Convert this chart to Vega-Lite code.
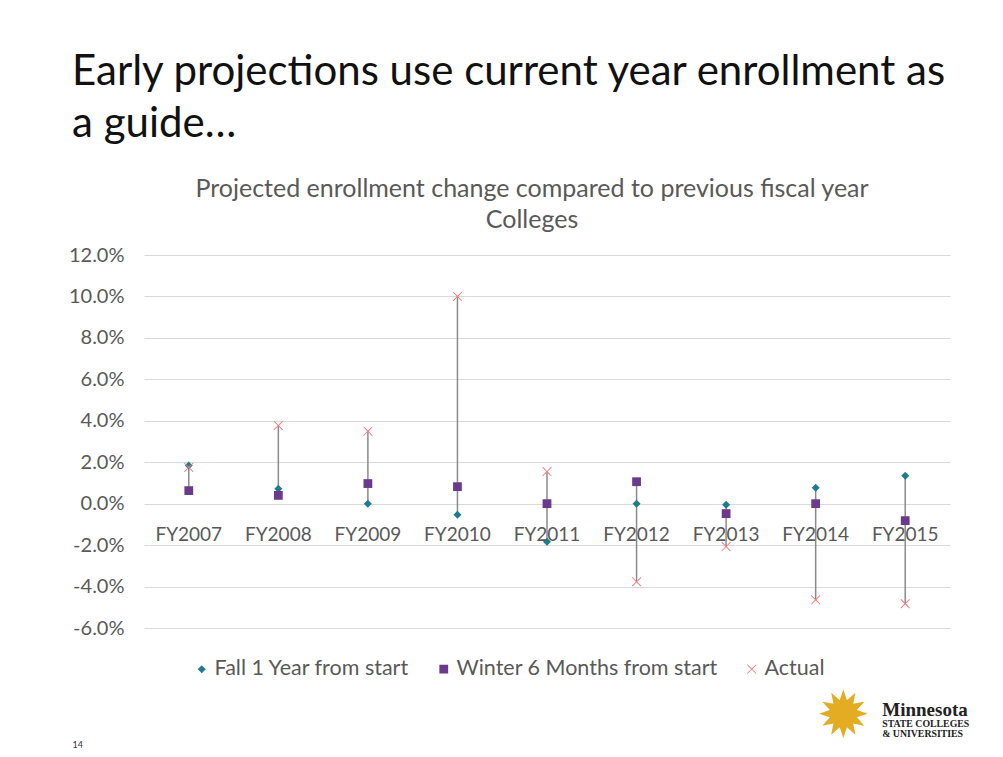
{
  "$schema": "https://vega.github.io/schema/vega-lite/v6.json",
  "autosize": {"type": "none"},
  "width": 806,
  "height": 373,
  "padding": {"left": 144, "top": 255, "right": 53, "bottom": 129},
  "background": "white",
  "title": {
    "text": ["Early projections use current year enrollment as", "a guide…"],
    "anchor": "start",
    "frame": "group",
    "dx": -72,
    "dy": -11,
    "offset": 20,
    "font": "Lato",
    "fontSize": 42,
    "fontWeight": "normal",
    "color": "#111111",
    "lineHeight": 52
  },
  "config": {
    "font": "Lato",
    "view": {"stroke": null},
    "locale": {"number": {"decimal": ".", "thousands": ",", "grouping": [3], "currency": ["$", ""], "minus": "-"}}
  },
  "datasets": {
    "enroll": [
      {"year": "FY2007", "series": "Fall 1 Year from start", "value": 0.0184},
      {"year": "FY2007", "series": "Winter 6 Months from start", "value": 0.0063},
      {"year": "FY2007", "series": "Actual", "value": 0.0175},
      {"year": "FY2008", "series": "Fall 1 Year from start", "value": 0.0072},
      {"year": "FY2008", "series": "Winter 6 Months from start", "value": 0.0040},
      {"year": "FY2008", "series": "Actual", "value": 0.0377},
      {"year": "FY2009", "series": "Fall 1 Year from start", "value": 0.0000},
      {"year": "FY2009", "series": "Winter 6 Months from start", "value": 0.0097},
      {"year": "FY2009", "series": "Actual", "value": 0.0350},
      {"year": "FY2010", "series": "Fall 1 Year from start", "value": -0.0053},
      {"year": "FY2010", "series": "Winter 6 Months from start", "value": 0.0082},
      {"year": "FY2010", "series": "Actual", "value": 0.1000},
      {"year": "FY2011", "series": "Fall 1 Year from start", "value": -0.0184},
      {"year": "FY2011", "series": "Winter 6 Months from start", "value": 0.0000},
      {"year": "FY2011", "series": "Actual", "value": 0.0155},
      {"year": "FY2012", "series": "Fall 1 Year from start", "value": 0.0000},
      {"year": "FY2012", "series": "Winter 6 Months from start", "value": 0.0106},
      {"year": "FY2012", "series": "Actual", "value": -0.0377},
      {"year": "FY2013", "series": "Fall 1 Year from start", "value": -0.0005},
      {"year": "FY2013", "series": "Winter 6 Months from start", "value": -0.0048},
      {"year": "FY2013", "series": "Actual", "value": -0.0207},
      {"year": "FY2014", "series": "Fall 1 Year from start", "value": 0.0077},
      {"year": "FY2014", "series": "Winter 6 Months from start", "value": 0.0000},
      {"year": "FY2014", "series": "Actual", "value": -0.0464},
      {"year": "FY2015", "series": "Fall 1 Year from start", "value": 0.0135},
      {"year": "FY2015", "series": "Winter 6 Months from start", "value": -0.0082},
      {"year": "FY2015", "series": "Actual", "value": -0.0483}
    ]
  },
  "encoding": {
    "x": {
      "field": "year", "type": "nominal",
      "scale": {"type": "point", "padding": 0.5},
      "axis": null
    }
  },
  "layer": [
    {
      "data": {"name": "enroll"},
      "mark": {"type": "rule", "color": "#8A8A8A", "strokeWidth": 1.5},
      "encoding": {
        "y": {
          "aggregate": "min", "field": "value", "type": "quantitative", "title": null,
          "scale": {"domain": [-0.06, 0.12], "nice": false, "zero": false},
          "axis": {
            "values": [-0.06, -0.04, -0.02, 0, 0.02, 0.04, 0.06, 0.08, 0.10, 0.12],
            "format": ".1%",
            "grid": true, "gridColor": "#D9D9D9", "gridWidth": 1,
            "domain": false, "ticks": false,
            "labelFont": "Lato", "labelFontSize": 20, "labelColor": "#595959", "labelPadding": 20
          }
        },
        "y2": {"aggregate": "max", "field": "value"}
      }
    },
    {
      "data": {"name": "enroll"},
      "mark": {"type": "point", "filled": true, "opacity": 1, "strokeWidth": 0},
      "encoding": {
        "y": {"field": "value", "type": "quantitative", "title": null},
        "color": {
          "field": "series", "type": "nominal", "title": null,
          "scale": {"domain": ["Fall 1 Year from start", "Winter 6 Months from start", "Actual"], "range": ["#1D7D8C", "#6B3A8A", "#F47C82"]},
          "legend": {
            "orient": "none", "legendX": 47, "legendY": 403, "direction": "horizontal",
            "labelFont": "Lato", "labelFontSize": 21.5, "labelColor": "#595959", "labelLimit": 0,
            "columnPadding": 23, "labelOffset": 2, "symbolStrokeWidth": 0
          }
        },
        "shape": {
          "field": "series", "type": "nominal", "title": null,
          "scale": {"domain": ["Fall 1 Year from start", "Winter 6 Months from start", "Actual"], "range": ["diamond", "square", "M-1,-0.86L-0.86,-1L0,-0.14L0.86,-1L1,-0.86L0.14,0L1,0.86L0.86,1L0,0.14L-0.86,1L-1,0.86L-0.14,0Z"]}
        },
        "size": {
          "field": "series", "type": "nominal", "title": null,
          "scale": {"domain": ["Fall 1 Year from start", "Winter 6 Months from start", "Actual"], "range": [64, 90, 110]}
        }
      }
    },
    {
      "data": {"name": "enroll"},
      "transform": [{"aggregate": [{"op": "count", "as": "n"}], "groupby": ["year"]}],
      "mark": {"type": "text", "font": "Lato", "fontSize": 19, "color": "#595959", "baseline": "middle", "dy": 31},
      "encoding": {
        "y": {"datum": 0, "type": "quantitative", "title": null},
        "text": {"field": "year"}
      }
    },
    {
      "data": {"values": [{}]},
      "mark": {"type": "text", "text": ["Projected enrollment change compared to previous fiscal year", "Colleges"], "font": "Lato", "fontSize": 25, "color": "#595959", "align": "center", "baseline": "alphabetic", "lineHeight": 31, "dx": -15},
      "encoding": {
        "x": {"datum": "FY2011", "type": "nominal", "axis": null},
        "y": {"datum": 0.148, "type": "quantitative", "title": null}
      }
    },
    {
      "data": {"values": [{}]},
      "mark": {"type": "text", "text": "✹", "font": "DejaVu Sans", "fontSize": 64, "color": "#E3AC22", "align": "center", "baseline": "middle", "dx": -62},
      "encoding": {
        "x": {"datum": "FY2015", "type": "nominal", "axis": null},
        "y": {"datum": -0.1034, "type": "quantitative", "title": null}
      }
    },
    {
      "data": {"values": [{}]},
      "mark": {"type": "text", "text": "Minnesota", "font": "Liberation Serif", "fontWeight": "bold", "fontSize": 19, "color": "#222222", "align": "left", "baseline": "alphabetic", "dx": -23},
      "encoding": {
        "x": {"datum": "FY2015", "type": "nominal", "axis": null},
        "y": {"datum": -0.1025, "type": "quantitative", "title": null}
      }
    },
    {
      "data": {"values": [{}]},
      "mark": {"type": "text", "text": "STATE COLLEGES", "font": "Liberation Serif", "fontWeight": "bold", "fontSize": 9.8, "color": "#222222", "align": "left", "baseline": "alphabetic", "dx": -23},
      "encoding": {
        "x": {"datum": "FY2015", "type": "nominal", "axis": null},
        "y": {"datum": -0.1078, "type": "quantitative", "title": null}
      }
    },
    {
      "data": {"values": [{}]},
      "mark": {"type": "text", "text": "& UNIVERSITIES", "font": "Liberation Serif", "fontWeight": "bold", "fontSize": 9.8, "color": "#222222", "align": "left", "baseline": "alphabetic", "dx": -23},
      "encoding": {
        "x": {"datum": "FY2015", "type": "nominal", "axis": null},
        "y": {"datum": -0.1126, "type": "quantitative", "title": null}
      }
    },
    {
      "data": {"values": [{}]},
      "mark": {"type": "text", "text": "14", "font": "Lato", "fontSize": 9, "color": "#333333", "align": "center", "baseline": "middle", "dx": -111},
      "encoding": {
        "x": {"datum": "FY2007", "type": "nominal", "axis": null},
        "y": {"datum": -0.1165, "type": "quantitative", "title": null}
      }
    }
  ]
}
